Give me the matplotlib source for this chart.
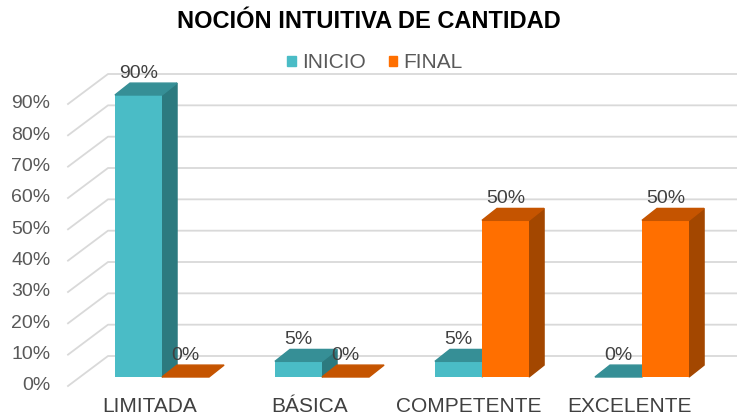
import numpy as np
import matplotlib
matplotlib.use('Agg')
from matplotlib import pyplot as plt
from matplotlib.patches import Polygon, Patch

plt.rcParams['font.family'] = ['Liberation Sans', 'DejaVu Sans']

categories = ['LIMITADA', 'BÁSICA', 'COMPETENTE', 'EXCELENTE']
inicio = [90, 5, 5, 0]
final = [0, 0, 50, 50]
yticks = list(range(0, 100, 10))

# colores: frente, tapa, lado
teal = ('#4ABCC6', '#368F96', '#2C7A7F')
orange = ('#FF6F00', '#C55400', '#A34700')

# geometria pseudo 3D (unidades de datos)
w = 0.294
ddx, ddy = 0.094, 3.8          # profundidad de las barras
back_x, back_dy = -0.3375, 6.7  # pared del fondo
front_x, front_dy = -0.5875, -2.87

fig = plt.figure(figsize=(7.37, 4.18), dpi=100)
ax = fig.add_axes([0, 0, 1, 1])
ax.set_xlim(-1.0125, 3.59375)
ax.set_ylim(-13.085, 120.32)
ax.axis('off')

# lineas de cuadricula (pared lateral + fondo)
for v in yticks:
    ax.plot([front_x, back_x, 3.6], [v + front_dy, v + back_dy, v + back_dy],
            color='#D9D9D9', lw=1.3, zorder=1)
    ax.text(front_x - 0.11, v + front_dy, f'{v}%', ha='right', va='center',
            fontsize=14, color='#595959')

x = np.arange(len(categories))


def bars3d(xc, vals, cols):
    ax.bar(xc, vals, width=w, color=cols[0], zorder=3)
    for xi, v in zip(xc, vals):
        x0, x1 = xi - w / 2, xi + w / 2
        if v > 0:
            ax.add_patch(Polygon([(x1, 0), (x1 + ddx, ddy), (x1 + ddx, v + ddy), (x1, v)],
                                 closed=True, color=cols[2], zorder=2))
        ax.add_patch(Polygon([(x0, v), (x1, v), (x1 + ddx, v + ddy), (x0 + ddx, v + ddy)],
                             closed=True, color=cols[1], zorder=3))
        ax.text(xi, v + ddy + 3.2, f'{v}%', ha='center', va='center',
                fontsize=14, color='#404040', zorder=5)


bars3d(x - w / 2, inicio, teal)
bars3d(x + w / 2, final, orange)

for xi, c in zip(x, categories):
    ax.text(xi - 0.08, -9.3, c, ha='center', va='center', fontsize=15, color='#404040')

fig.text(0.5, 1 - 22 / 418, 'NOCIÓN INTUITIVA DE CANTIDAD', ha='center', va='center',
         fontsize=17, fontweight='bold', color='black')

handles = [Patch(color=teal[0], label='INICIO'), Patch(color=orange[0], label='FINAL')]
fig.legend(handles=handles, loc='center', bbox_to_anchor=(375 / 737, 1 - 63 / 418),
           ncol=2, frameon=False, fontsize=15, handlelength=0.4, handleheight=0.4,
           handletextpad=0.3, columnspacing=1.1, labelcolor='#595959')

fig.savefig('out.png', dpi=100)
